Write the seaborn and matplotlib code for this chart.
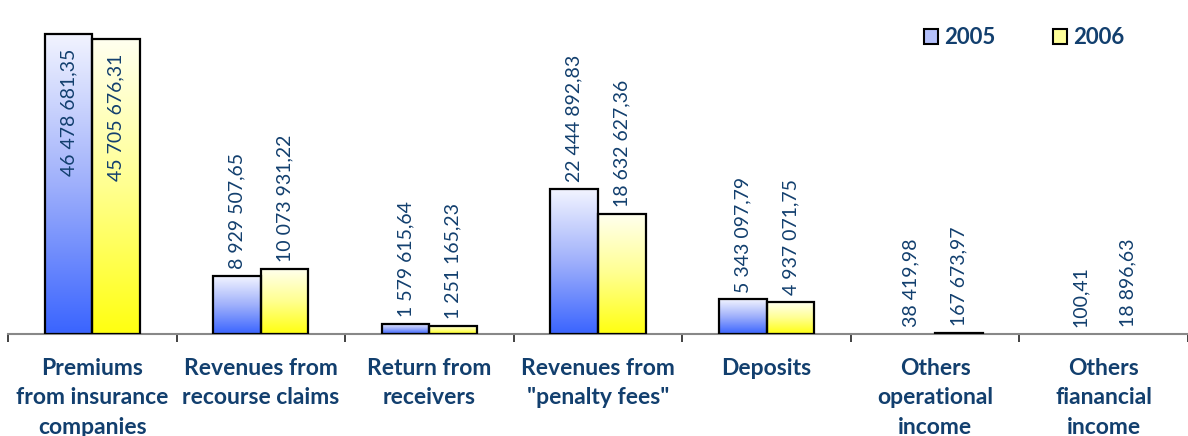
import numpy as np
import pandas as pd
import matplotlib
matplotlib.use("Agg")
import matplotlib.pyplot as plt
from matplotlib.patches import Patch
from matplotlib.colors import LinearSegmentedColormap
import seaborn as sns

# --- data ---
categories = ["Premiums\nfrom insurance\ncompanies",
              "Revenues from\nrecourse claims",
              "Return from\nreceivers",
              "Revenues from\n\"penalty fees\"",
              "Deposits",
              "Others\noperational\nincome",
              "Others\nfianancial\nincome"]
years = ["2005", "2006"]
values_2005 = [46478681.35, 8929507.65, 1579615.64, 22444892.83, 5343097.79, 38419.98, 100.41]
values_2006 = [45705676.31, 10073931.22, 1251165.23, 18632627.36, 4937071.75, 167673.97, 18896.63]

df = pd.DataFrame({
    "category": categories * 2,
    "year": [years[0]] * len(categories) + [years[1]] * len(categories),
    "value": values_2005 + values_2006,
})

text_color = "#123f6e"
grad_maps = {
    "2005": LinearSegmentedColormap.from_list("b", ["#3a64ff", "#9fb0fb", "#f2f4ff"]),
    "2006": LinearSegmentedColormap.from_list("y", ["#ffff10", "#ffff90", "#fffff0"]),
}
legend_colors = {"2005": "#b4c0fa", "2006": "#ffff99"}

def fmt(v):
    return f"{v:,.2f}".replace(",", " ").replace(".", ",")

sns.set_style("white")
plt.rcParams["font.family"] = ["Lato", "DejaVu Sans"]

fig = plt.figure(figsize=(11.88, 4.36), dpi=100)
W, H = 1188, 436
cat_px = 169.9
left_px, base_px = 8, 334
ax_h_px = base_px - 11
ax = fig.add_axes([left_px / W, (H - base_px) / H, (W - left_px) / W, ax_h_px / H])

sns.barplot(data=df, x="category", y="value", hue="year", width=0.565,
            palette={"2005": "white", "2006": "white"}, edgecolor="black",
            linewidth=1.6, legend=False, ax=ax)

ymax = 50e6
xlim = (-0.5, -0.5 + (W - left_px) / cat_px)

# vertical gradient inside every bar
grad = np.linspace(0, 1, 256).reshape(-1, 1)
for container, yr in zip(ax.containers, years):
    for bar in container:
        x0, w, h = bar.get_x(), bar.get_width(), bar.get_height()
        bar.set_facecolor("none")
        bar.set_zorder(3)
        # bars thinner than half a pixel are not drawn at all
        if h / ymax * ax_h_px < 0.5:
            bar.set_edgecolor("none")
            continue
        im = ax.imshow(grad, cmap=grad_maps[yr], origin="lower", aspect="auto",
                       extent=[x0, x0 + w, 0, h], zorder=2)
        im.set_clip_path(bar)

# value labels
for container, yr, vals in zip(ax.containers, years, [values_2005, values_2006]):
    for bar, v in zip(container, vals):
        xc = bar.get_x() + bar.get_width() / 2
        if v > 0.8 * ymax:
            ax.annotate(fmt(v), (xc, v), xytext=(0, -11), textcoords="offset points",
                        rotation=90, ha="center", va="top", fontsize=14,
                        color=text_color, zorder=5)
        else:
            ax.annotate(fmt(v), (xc, v), xytext=(0, 5), textcoords="offset points",
                        rotation=90, ha="center", va="bottom", fontsize=14,
                        color=text_color, zorder=5)

ax.set_xlim(*xlim)
ax.set_ylim(0, ymax)
ax.set_xlabel("")
ax.set_ylabel("")
ax.set_yticks([])
ax.set_xticks(range(len(categories)))
ax.set_xticklabels(categories, fontsize=16.5, fontweight="bold", color=text_color,
                   linespacing=1.5, va="top")
ax.set_xticks(np.arange(-0.5, len(categories) + 0.5, 1), minor=True)
ax.tick_params(axis="x", which="major", length=0, pad=17)
ax.tick_params(axis="x", which="minor", length=6, width=1.2, color="#222222",
               direction="out", bottom=True)
for s in ["top", "right", "left"]:
    ax.spines[s].set_visible(False)
ax.spines["bottom"].set_color("#888888")
ax.spines["bottom"].set_linewidth(1.5)

handles = [Patch(facecolor=legend_colors[y], edgecolor="black", linewidth=1.5) for y in years]
fig.legend(handles, years, loc="upper left", bbox_to_anchor=(904 / W, 1 - 7 / H),
           ncol=2, frameon=False, handlelength=0.65, handleheight=0.65,
           handletextpad=0.25, columnspacing=2.6,
           prop={"family": "Lato", "weight": "bold", "size": 16},
           labelcolor=text_color)

fig.savefig("out.png", dpi=100)
